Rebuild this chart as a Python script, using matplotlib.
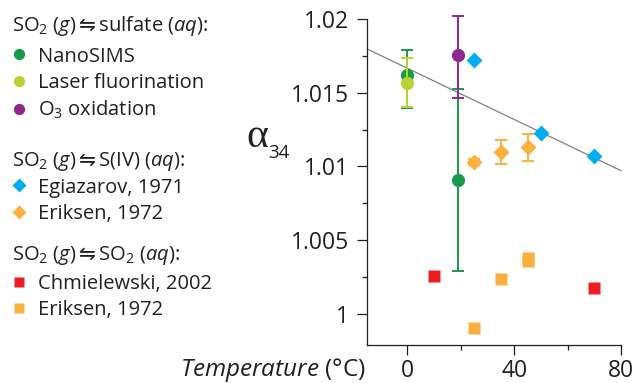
import matplotlib
matplotlib.use('Agg')
import matplotlib.pyplot as plt

plt.rcParams['font.family'] = ['Open Sans', 'DejaVu Sans']
plt.rcParams['mathtext.fontset'] = 'custom'
plt.rcParams['mathtext.rm'] = 'Open Sans'
plt.rcParams['mathtext.it'] = 'Open Sans:italic'
plt.rcParams['mathtext.sf'] = 'DejaVu Sans'
plt.rcParams['mathtext.default'] = 'regular'
plt.rcParams['mathtext.fallback'] = 'stix'

INK = '#231f20'

# SO2 (g) <-> sulfate (aq)
nanosims_t = [0, 19]
nanosims_a = [1.0162, 1.00906]
nanosims_lo = [1.01394, 1.00288]
nanosims_hi = [1.0179, 1.01525]

laser_t = [0]
laser_a = [1.01564]
laser_lo = [1.01403]
laser_hi = [1.01737]

o3_t = [19]
o3_a = [1.01754]
o3_lo = [1.01462]
o3_hi = [1.02022]

# SO2 (g) <-> S(IV) (aq)
egiazarov_t = [25, 50, 70]
egiazarov_a = [1.01724, 1.01224, 1.01068]

eriksen_siv_t = [25, 35, 45]
eriksen_siv_a = [1.0103, 1.01098, 1.0113]
eriksen_siv_lo = [1.01008, 1.01018, 1.01037]
eriksen_siv_hi = [1.01052, 1.01179, 1.01218]

# SO2 (g) <-> SO2 (aq)
chmielewski_t = [10, 70]
chmielewski_a = [1.00254, 1.00173]

eriksen_so2_t = [25, 35, 45, 45]
eriksen_so2_a = [0.99901, 1.00234, 1.00378, 1.00358]

# regression line
fit_t = [-15, 80]
fit_a = [1.01796, 1.00971]

yticks = [1.0, 1.005, 1.01, 1.015, 1.02]
ytick_labels = ['1', '1.005', '1.01', '1.015', '1.02']
yminor = [1.0025, 1.0075, 1.0125, 1.0175]
xticks = [0, 40, 80]
xminor = [20, 60]


def yerr(a, lo, hi):
    return [[v - l for v, l in zip(a, lo)], [h - v for v, h in zip(a, hi)]]


W, H = 640, 383
fig = plt.figure(figsize=(W / 100, H / 100), dpi=100)
ax = fig.add_axes([367.3 / W, 1 - 345.3 / H, (621 - 367.3) / W, (345.3 - 19) / H])

ax.plot(fit_t, fit_a, color='#808080', lw=0.9, zorder=1, clip_on=False)

green = '#179a4a'
lime = '#b7d433'
purple = '#8e288f'
cyan = '#00aeef'
orange = '#fbb040'
red = '#ed1c24'

eb = dict(fmt='none', elinewidth=1.4, capsize=4.3, capthick=1.4, clip_on=False)
ax.errorbar(nanosims_t, nanosims_a, yerr=yerr(nanosims_a, nanosims_lo, nanosims_hi),
            ecolor=green, zorder=2, **eb)
h_nano, = ax.plot(nanosims_t, nanosims_a, 'o', color=green, ms=9.5, mec='none',
                  zorder=3, clip_on=False, label='NanoSIMS')
ax.errorbar(laser_t, laser_a, yerr=yerr(laser_a, laser_lo, laser_hi),
            ecolor=lime, zorder=4, **eb)
h_laser, = ax.plot(laser_t, laser_a, 'o', color=lime, ms=9.5, mec='none',
                   zorder=5, clip_on=False, label='Laser fluorination')
ax.errorbar(o3_t, o3_a, yerr=yerr(o3_a, o3_lo, o3_hi), ecolor=purple, zorder=4, **eb)
h_o3, = ax.plot(o3_t, o3_a, 'o', color=purple, ms=9.5, mec='none',
                zorder=5, clip_on=False, label='O$_3$ oxidation')

h_egi, = ax.plot(egiazarov_t, egiazarov_a, 'D', color=cyan, ms=8, mec='none',
                 zorder=5, clip_on=False, label='Egiazarov, 1971')
ax.errorbar(eriksen_siv_t, eriksen_siv_a,
            yerr=yerr(eriksen_siv_a, eriksen_siv_lo, eriksen_siv_hi),
            ecolor=orange, zorder=4, **eb)
h_eri1, = ax.plot(eriksen_siv_t, eriksen_siv_a, 'D', color=orange, ms=8, mec='none',
                  zorder=5, clip_on=False, label='Eriksen, 1972')

h_chm, = ax.plot(chmielewski_t, chmielewski_a, 's', color=red, ms=9, mec='none',
                 zorder=5, clip_on=False, label='Chmielewski, 2002')
h_eri2, = ax.plot(eriksen_so2_t, eriksen_so2_a, 's', color=orange, ms=9, mec='none',
                  zorder=5, clip_on=False, label='Eriksen, 1972')

ax.set_xlim(-15, 80)
ax.set_ylim(0.99786, 1.02)
ax.set_yticks(yticks, labels=ytick_labels)
ax.set_yticks(yminor, minor=True)
ax.set_xticks(xticks)
ax.set_xticks(xminor, minor=True)
for side in ('top', 'right'):
    ax.spines[side].set_visible(False)
for side in ('left', 'bottom'):
    ax.spines[side].set_linewidth(0.9)
    ax.spines[side].set_color(INK)
ax.tick_params(which='major', length=7.2, width=0.9, color=INK, labelsize=16.5,
               labelcolor=INK)
ax.tick_params(which='minor', length=3.6, width=0.9, color=INK)
ax.tick_params(axis='y', which='major', pad=6)
ax.tick_params(axis='x', which='major', pad=2.5)

# axis titles
fig.text(366 / W, 1 - 375.5 / H, r'$\mathit{Temperature}$ (°C)', ha='right',
         va='baseline', fontsize=17.5, color=INK)
fig.text(268 / W, 1 - 147 / H, 'α', ha='right', va='baseline', fontsize=30,
         color=INK, family='Liberation Serif')
fig.text(268 / W, 1 - 158 / H, '34', ha='left', va='baseline', fontsize=13.5,
         color=INK)

# legend groups: header text + marker legend
headers = [
    r'SO$_2$ $\mathit{(g)}\mathsf{\leftrightharpoons}$sulfate $\mathit{(aq)}$:',
    r'SO$_2$ $\mathit{(g)}\mathsf{\leftrightharpoons}$S(IV) $\mathit{(aq)}$:',
    r'SO$_2$ $\mathit{(g)}\mathsf{\leftrightharpoons}$SO$_2$ $\mathit{(aq)}$:',
]
header_baselines = [31, 166, 260]
groups = [[h_nano, h_laser, h_o3], [h_egi, h_eri1], [h_chm, h_eri2]]
group_tops = [46.5, 177.5, 274]

for text, base, handles, top in zip(headers, header_baselines, groups, group_tops):
    fig.text(12 / W, 1 - base / H, text, ha='left', va='baseline', fontsize=14.5,
             color=INK)
    leg = fig.legend(handles=handles, loc='upper left',
                     bbox_to_anchor=(12.6 / W, 1 - top / H), frameon=False,
                     borderpad=0, borderaxespad=0, fontsize=14.5,
                     handlelength=0.6, handletextpad=0.67, labelspacing=0.31,
                     markerscale=0.85)
    for t in leg.get_texts():
        t.set_color(INK)

fig.savefig('out.png', dpi=100)
